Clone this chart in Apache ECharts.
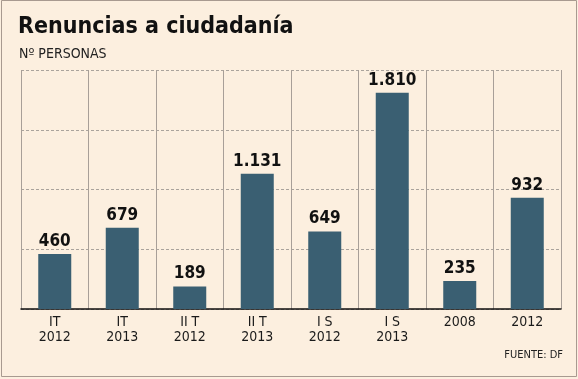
<!DOCTYPE html>
<html><head><meta charset="utf-8">
<script src="https://cdn.jsdelivr.net/npm/echarts@6/dist/echarts.min.js"></script>
<style>html,body{margin:0;padding:0;background:#fcefdf}#c{width:578px;height:379px}</style>
</head><body><div id="c"></div>
<script>
const categories = ["IT\n2012","IT\n2013","II T\n2012","II T\n2013","I S\n2012","I S\n2013","2008","2012"];
const values = [460,679,189,1131,649,1810,235,932];
const yMin = 0, yMax = 2000, yInterval = 500;

const F = '"DejaVu Sans Condensed", "DejaVu Sans", sans-serif';
const chart = echarts.init(document.getElementById('c'));
function fmt(v){ return String(v).replace(/\B(?=(\d{3})+(?!\d))/g,'.'); }
chart.setOption({
  backgroundColor: '#fcefdf',
  animation: false,
  graphic: [
    {type:'rect', shape:{x:1.5,y:0.5,width:575,height:376}, style:{fill:'none', stroke:'#a89a90', lineWidth:1}},
    {type:'text', left:18, top:16, style:{text:'Renuncias a ciudadanía', font:'bold 23px ' + F, fill:'#111'}},
    {type:'text', left:19, top:47, style:{text:'Nº PERSONAS', font:'14px ' + F, fill:'#222'}},
    {type:'text', right:15, top:350, style:{text:'FUENTE: DF', font:'11px ' + F, fill:'#222'}}
  ],
  grid: {left:21, right:17, top:70, bottom:70},
  xAxis: {
    type:'category', data:categories,
    axisLine:{show:true, lineStyle:{color:'#111', width:1.5}},
    axisTick:{show:false},
    axisLabel:{color:'#1a1a1a', fontSize:14, fontFamily:F, lineHeight:15, margin:6},
    splitLine:{show:true, lineStyle:{color:'#a89f98', width:1, type:'solid'}}
  },
  yAxis: {
    type:'value', min:yMin, max:yMax, interval:yInterval,
    axisLine:{show:false}, axisTick:{show:false}, axisLabel:{show:false},
    splitLine:{show:true, lineStyle:{color:'#aaa39c', type:[3,2], width:1}}
  },
  series: [{
    type:'bar', data:values, barWidth:33,
    itemStyle:{color:'#3a5f72'},
    label:{show:true, position:'top', distance:4, color:'#111', fontSize:17, fontWeight:'bold', fontFamily:F, formatter:p=>fmt(p.value)}
  }]
});
</script></body></html>
